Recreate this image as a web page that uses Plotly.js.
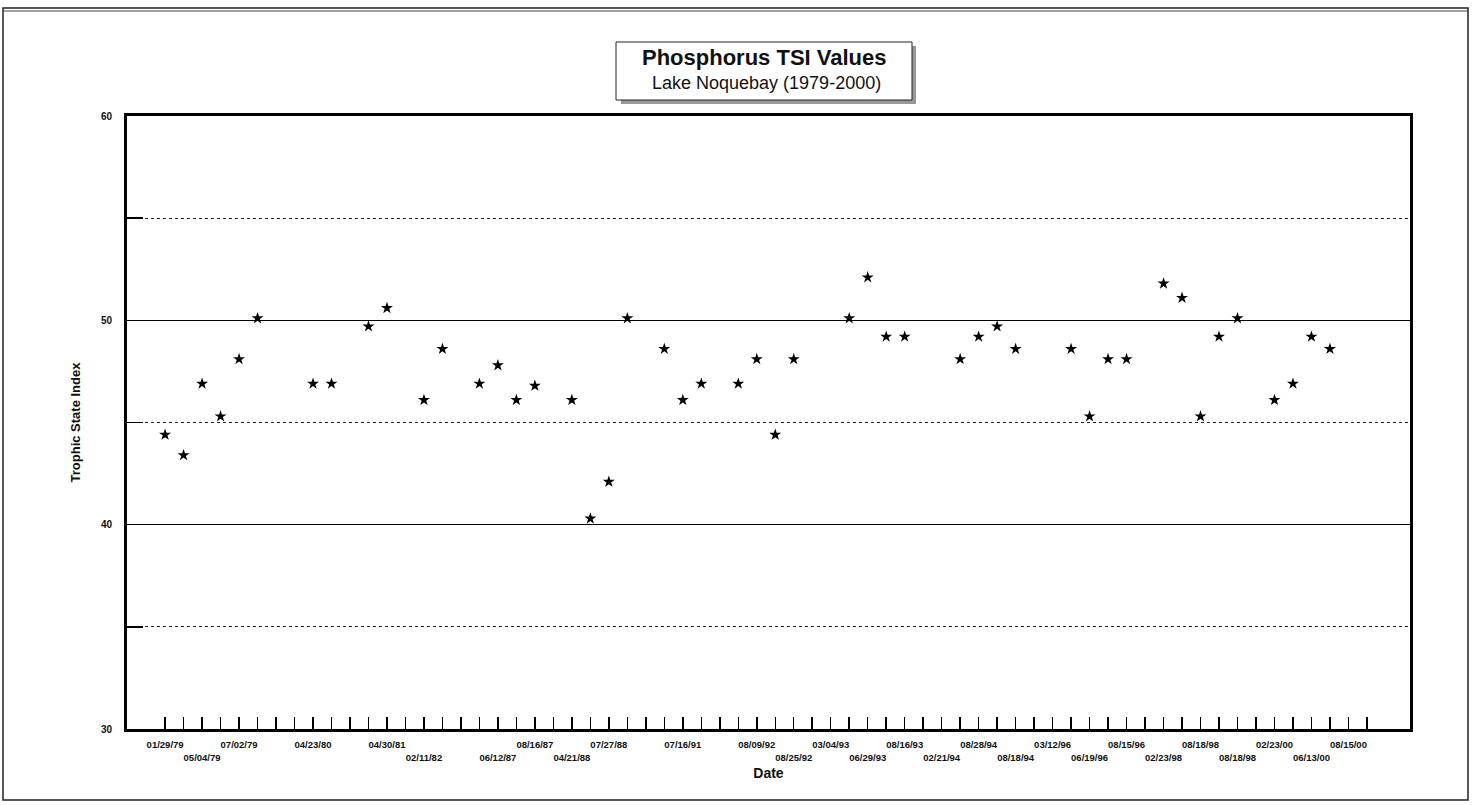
<!DOCTYPE html>
<html>
<head>
<meta charset="utf-8">
<script src="https://cdn.plot.ly/plotly-3.0.1.min.js"></script>
<style>html,body{margin:0;padding:0;background:#fff;}#chart{width:1472px;height:805px;}</style>
</head>
<body>
<div id="chart"></div>
<script>
// Category labels (blank where the original axis shows no label)
var dateLabels = [
  "01/29/79","","05/04/79","","07/02/79","","","","04/23/80","","","","04/30/81","","02/11/82","",
  "","","06/12/87","","08/16/87","","04/21/88","","07/27/88","","","","07/16/91","","","",
  "08/09/92","","08/25/92","","03/04/93","","06/29/93","","08/16/93","","02/21/94","","08/28/94","",
  "08/18/94","","03/12/96","","06/19/96","","08/15/96","","02/23/98","","08/18/98","","08/18/98","",
  "02/23/00","","06/13/00","","08/15/00",""
];
// TSI values per category (null = no sample plotted)
var tsiValues = [
  44.4,43.4,46.9,45.3,48.1,50.1,null,null,46.9,46.9,null,49.7,50.6,null,46.1,48.6,
  null,46.9,47.8,46.1,46.8,null,46.1,40.3,42.1,50.1,null,48.6,46.1,46.9,null,46.9,
  48.1,44.4,48.1,null,null,50.1,52.1,49.2,49.2,null,null,48.1,49.2,49.7,48.6,null,
  null,48.6,45.3,48.1,48.1,null,51.8,51.1,45.3,49.2,50.1,null,46.1,46.9,49.2,48.6,
  null,null
];
var yTickVals = [30,40,50,60];
var yTickText = ["30","40","50","60"];

var idx = dateLabels.map(function(_, i){ return i; });
var tickText = dateLabels.map(function(l, i){ return (i % 4 === 2 && l) ? "<br>" + l : l; });

var X0 = 127, X1 = 1410, Y0 = 729, Y1 = 116;
function px(x){ return (x - X0) / (X1 - X0); }
function py(y){ return (Y0 - y) / (Y0 - Y1); }

var data = [{
  type: "scatter", mode: "markers",
  x: idx, y: tsiValues,
  marker: {symbol: "star", size: 9, color: "#000"},
  hoverinfo: "y"
}];

var layout = {
  width: 1472, height: 805,
  margin: {l: X0, r: 1472 - X1, t: Y1, b: 805 - Y0},
  paper_bgcolor: "#fff", plot_bgcolor: "#fff",
  showlegend: false,
  font: {family: "Liberation Sans, Arial, sans-serif", color: "#111"},
  xaxis: {
    range: [-2.06, 67.33],
    tickvals: idx, ticktext: tickText,
    ticks: "inside", ticklen: 12, tickwidth: 1.5, tickcolor: "#000",
    tickangle: 0, ticklabelstandoff: 5,
    tickfont: {size: 9.5, color: "#111", weight: "bold"},
    showgrid: false, zeroline: false,
    showline: true, linecolor: "#000", linewidth: 3, mirror: true,
    title: {text: "<b>Date</b>", font: {size: 14, color: "#111"}, standoff: 7}
  },
  yaxis: {
    range: [30, 60],
    tickvals: yTickVals, ticktext: yTickText,
    ticks: "inside", ticklen: 16, tickwidth: 1.5, tickcolor: "#000",
    ticklabelstandoff: 10,
    tickfont: {size: 10, color: "#111", weight: "bold"},
    showgrid: true, gridcolor: "#000", gridwidth: 1,
    minor: {dtick: 5, tick0: 35, showgrid: true, gridcolor: "#222", griddash: "dot", gridwidth: 1.2,
            ticks: "inside", ticklen: 16, tickwidth: 1.5, tickcolor: "#000"},
    zeroline: false,
    showline: true, linecolor: "#000", linewidth: 3, mirror: true,
    title: {text: "<b>Trophic State Index</b>", font: {size: 13, color: "#111"}, standoff: 18}
  },
  shapes: [
    // outer frame
    {type: "rect", xref: "paper", yref: "paper", x0: px(3), x1: px(1468), y0: py(800), y1: py(8),
     line: {color: "#222", width: 1.5}, layer: "below"},
    {type: "line", xref: "paper", yref: "paper", x0: px(3), x1: px(1468), y0: py(11), y1: py(11),
     line: {color: "#444", width: 1}},
    // title box shadow
    {type: "rect", xref: "paper", yref: "paper", x0: px(621), x1: px(916), y0: py(104), y1: py(46),
     fillcolor: "#999", line: {width: 0}, layer: "below"},
    // title box
    {type: "rect", xref: "paper", yref: "paper", x0: px(616), x1: px(912), y0: py(100), y1: py(42),
     fillcolor: "#fff", line: {color: "#222", width: 1}, layer: "below"}
  ],
  annotations: [
    {xref: "paper", yref: "paper", x: px(764), y: py(58), text: "<b>Phosphorus TSI Values</b>",
     showarrow: false, font: {size: 22, color: "#111"}, xanchor: "center", yanchor: "middle"},
    {xref: "paper", yref: "paper", x: px(766), y: py(83), text: "Lake Noquebay (1979-2000)",
     showarrow: false, font: {size: 18, color: "#111"}, xanchor: "center", yanchor: "middle"}
  ]
};

Plotly.newPlot("chart", data, layout, {displayModeBar: false, staticPlot: true});
</script>
</body>
</html>
